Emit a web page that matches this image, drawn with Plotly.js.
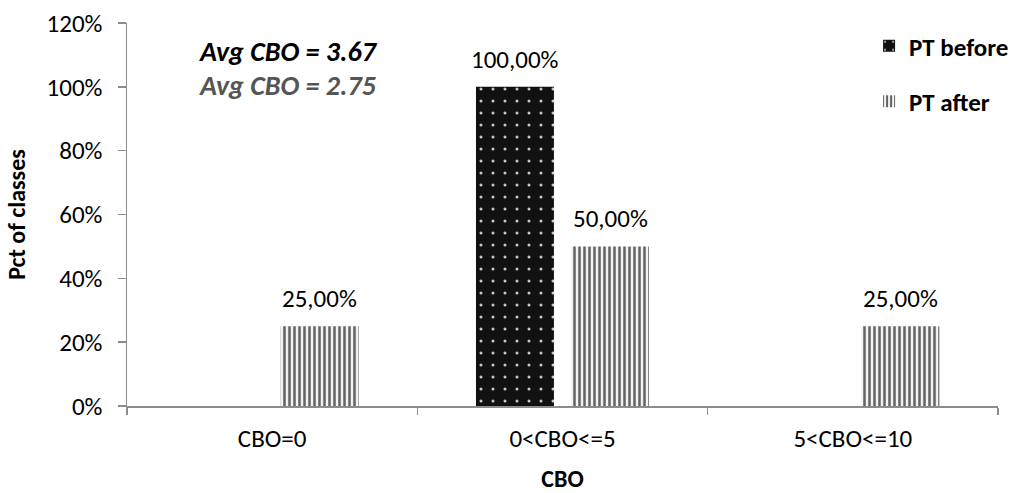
<!DOCTYPE html>
<html>
<head>
<meta charset="utf-8">
<script src="https://cdn.plot.ly/plotly-3.0.1.min.js"></script>
<style>
  html, body { margin: 0; padding: 0; background: #fff; }
  #chart { width: 1019px; height: 493px; }
</style>
</head>
<body>
<div id="chart"></div>
<script>
// CBO classes and share of classes per version
const categories = ['CBO=0', '0<CBO<=5', '5<CBO<=10'];
const seriesNames = ['PT before', 'PT after'];
const ptBefore = [0, 1.00, 0];
const ptAfter = [0.25, 0.50, 0.25];
const avgLabels = ['Avg CBO = 3.67', 'Avg CBO = 2.75'];
const yTickVals = [0, 0.2, 0.4, 0.6, 0.8, 1.0, 1.2];

const FONT = 'Carlito, Lato, "Liberation Sans", sans-serif';
const FS = 25;

const traces = [
  {
    type: 'bar', name: seriesNames[0], x: categories, y: ptBefore,
    legendgroup: 'a',
    marker: {
      color: '#111111',
      line: { width: 0 },
      pattern: { shape: '.', bgcolor: '#111111', fgcolor: '#c8c8c8', size: 12, solidity: 0.05, fillmode: 'replace' }
    },
    hoverinfo: 'x+y'
  },
  {
    type: 'bar', name: seriesNames[1], x: categories, y: ptAfter,
    legendgroup: 'b',
    marker: {
      color: '#f2f2f2',
      line: { width: 0 },
      pattern: { shape: '|', bgcolor: '#f2f2f2', fgcolor: '#636363', size: 5, solidity: 0.5, fillmode: 'replace' }
    },
    hoverinfo: 'x+y'
  }
];

// value labels above each non-zero bar
const annotations = [];
[ptBefore, ptAfter].forEach((vals, si) => {
  vals.forEach((v, i) => {
    if (v > 0) {
      annotations.push({
        x: categories[i], y: v, xref: 'x', yref: 'y',
        text: (v * 100).toFixed(2).replace('.', ',') + '%',
        showarrow: false, yanchor: 'bottom', yshift: 10,
        xshift: si === 0 ? -47.5 : 47.5,
        font: { family: FONT, size: FS, color: '#000' }
      });
    }
  });
});

// average CBO notes
annotations.push({
  xref: 'paper', yref: 'paper', x: 0.0804, y: 0.926, xanchor: 'left', yanchor: 'middle',
  text: '<b><i>' + avgLabels[0] + '</i></b>', showarrow: false,
  font: { family: FONT, size: 28, color: '#000' }
});
annotations.push({
  xref: 'paper', yref: 'paper', x: 0.0804, y: 0.838, xanchor: 'left', yanchor: 'middle',
  text: '<b><i>' + avgLabels[1] + '</i></b>', showarrow: false,
  font: { family: FONT, size: 28, color: '#555555' }
});

const layout = {
  width: 1019, height: 493,
  margin: { l: 127, r: 21, t: 23, b: 87, autoexpand: false },
  paper_bgcolor: '#fff', plot_bgcolor: '#fff',
  font: { family: FONT, size: FS, color: '#000' },
  barmode: 'group', bargap: 0.345, bargroupgap: 0.18,
  showlegend: true,
  legend: {
    x: 0.852, y: 1.0, xanchor: 'left', yanchor: 'top',
    font: { family: FONT, size: FS, color: '#000', weight: 'bold' },
    tracegroupgap: 20, bgcolor: 'rgba(0,0,0,0)',
    itemwidth: 30
  },
  xaxis: {
    type: 'category', range: [-0.5, 2.5],
    showline: true, linecolor: '#8c8c8c', linewidth: 1.5,
    ticks: 'outside', tickson: 'boundaries', ticklen: 7, tickcolor: '#8c8c8c', tickwidth: 1.5,
    showgrid: false, zeroline: false,
    tickfont: { family: FONT, size: FS, color: '#000' },
    ticklabelstandoff: 9,
    title: { text: '<b>CBO</b>', font: { family: FONT, size: FS - 1, color: '#000' }, standoff: 20 }
  },
  yaxis: {
    range: [0, 1.2], tickvals: yTickVals, tickformat: '.0%',
    showline: true, linecolor: '#8c8c8c', linewidth: 1.5,
    ticks: 'outside', ticklen: 8, tickcolor: '#8c8c8c', tickwidth: 1.5,
    showgrid: false, zeroline: false,
    tickfont: { family: FONT, size: FS, color: '#000' },
    ticklabelstandoff: 10,
    title: { text: '<b>Pct of classes</b>', font: { family: FONT, size: FS - 1, color: '#000' }, standoff: 14 }
  },
  annotations: annotations
};

Plotly.newPlot('chart', traces, layout, { displayModeBar: false, staticPlot: true });
</script>
</body>
</html>
